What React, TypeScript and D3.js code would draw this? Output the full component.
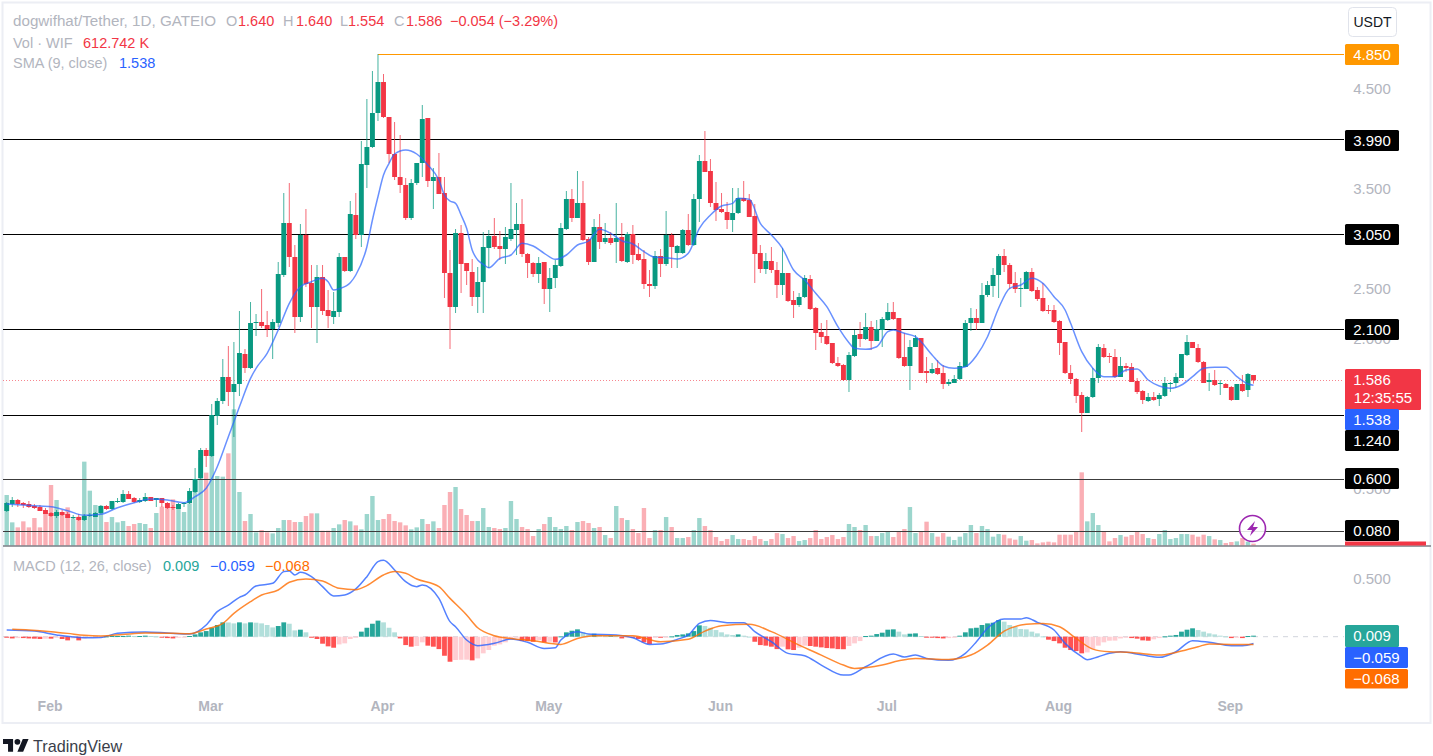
import React from 'react';
import * as d3 from 'd3';

// dogwifhat/Tether daily candles (first candle is 24 Jan)
const opens = [.28,.35,.39,.36,.35,.33,.32,.29,.26,.23,.27,.25,.21,.22,.19,.23,.22,.26,.33,.30,.37,.37,.45,.41,.37,.38,.42,.39,.41,.36,.32,.30,.35,.36,.47,.61,.89,.83,1.23,1.38,1.62,1.47,1.55,1.85,1.71,2.16,2.17,2.14,2.10,2.16,2.64,3.16,2.82,2.22,3.04,2.56,2.32,2.62,2.29,2.22,2.27,2.82,2.68,3.24,3.04,3.74,3.92,4.26,4.57,4.22,3.85,3.62,3.54,3.21,3.56,3.76,4.21,3.58,3.62,3.46,2.66,2.32,3.06,2.76,2.67,2.42,2.57,2.91,3.03,2.93,2.90,3.00,3.09,3.15,2.85,2.76,2.65,2.77,2.50,2.61,2.73,3.10,3.40,3.21,3.36,3.00,2.77,3.12,2.97,3.01,2.97,3.02,2.77,3.05,2.85,2.80,2.55,2.53,2.83,2.75,3.04,2.86,2.86,3.09,2.94,3.40,3.78,3.68,3.36,3.30,3.27,3.19,3.26,3.41,3.39,3.23,2.86,2.70,2.78,2.69,2.54,2.66,2.39,2.34,2.42,2.60,2.31,2.07,2.03,1.96,1.76,1.74,1.59,1.83,2.05,2.00,2.12,1.98,2.09,2.19,2.27,2.21,1.82,1.73,1.92,2.01,1.68,1.66,1.71,1.66,1.55,1.56,1.60,1.72,2.16,2.21,2.16,2.44,2.53,2.64,2.83,2.74,2.56,2.50,2.50,2.67,2.49,2.41,2.29,2.29,2.18,1.97,1.66,1.60,1.44,1.26,1.42,1.61,1.91,1.83,1.82,1.62,1.73,1.72,1.58,1.48,1.38,1.42,1.40,1.43,1.55,1.56,1.61,1.84,1.97,1.91,1.77,1.57,1.59,1.55,1.55,1.52,1.39,1.55,1.49,1.64];
const highs = [.37,.42,.40,.37,.38,.35,.34,.31,.27,.29,.29,.27,.24,.25,.25,.26,.27,.34,.34,.38,.41,.49,.48,.42,.41,.46,.42,.41,.41,.37,.34,.36,.37,.51,.71,.91,.91,1.35,1.41,1.80,1.93,1.97,2.28,1.90,2.37,2.25,2.50,2.28,2.20,2.77,3.46,3.56,2.94,3.15,3.30,2.74,2.74,2.74,2.49,2.47,2.86,2.82,3.38,3.46,3.98,4.40,4.68,4.85,4.65,4.22,4.17,4.04,3.61,3.60,3.76,4.34,4.21,3.71,3.86,3.62,2.89,3.10,3.14,2.76,2.80,2.72,3.07,3.09,3.21,3.08,3.12,3.56,3.36,3.40,2.86,2.77,2.82,2.77,2.71,2.79,3.16,3.48,3.50,3.68,3.58,3.02,3.20,3.25,3.16,3.07,3.36,3.16,3.07,3.14,2.96,2.89,2.69,2.88,2.90,3.28,3.06,2.94,3.10,3.25,3.45,3.84,4.08,3.80,3.57,3.46,3.37,3.51,3.51,3.58,3.45,3.35,2.94,2.86,2.92,2.77,2.91,2.66,2.48,2.46,2.64,2.64,2.32,2.16,2.19,1.96,1.82,1.75,1.87,2.09,2.17,2.26,2.18,2.19,2.22,2.36,2.37,2.21,2.06,1.99,2.04,2.01,1.82,1.76,1.79,1.74,1.60,1.64,1.77,2.19,2.31,2.30,2.56,2.58,2.71,2.85,2.90,2.76,2.67,2.61,2.68,2.71,2.52,2.56,2.34,2.34,2.19,1.97,1.74,1.61,1.47,1.43,1.71,1.95,1.95,1.86,1.90,1.82,1.76,1.76,1.61,1.49,1.46,1.47,1.46,1.62,1.57,1.66,1.85,2.04,1.97,1.95,1.78,1.66,1.69,1.59,1.56,1.53,1.55,1.64,1.66,1.64];
const lows = [.27,.32,.32,.31,.31,.30,.28,.25,.22,.21,.23,.21,.20,.18,.18,.22,.22,.25,.29,.29,.36,.36,.40,.36,.36,.37,.38,.32,.32,.30,.29,.30,.32,.35,.46,.60,.72,.82,1.14,1.35,1.33,1.02,1.43,1.66,1.70,2.03,2.11,2.02,1.80,2.12,2.62,2.72,2.06,2.17,2.52,2.11,1.96,2.24,2.11,2.15,2.22,2.67,2.67,3.00,2.92,3.51,3.91,4.18,4.21,3.76,3.59,3.46,3.19,3.19,3.54,3.62,3.52,3.30,3.45,2.41,1.90,2.26,2.46,2.54,2.33,2.26,2.26,2.71,2.90,2.79,2.75,2.98,2.84,2.82,2.61,2.62,2.56,2.35,2.27,2.51,2.72,3.09,3.17,3.21,2.98,2.74,2.77,2.90,2.95,2.94,2.76,2.77,2.76,2.75,2.78,2.50,2.42,2.50,2.62,2.73,2.71,2.71,2.85,2.93,2.93,3.17,3.67,3.32,3.18,3.26,3.10,3.07,3.25,3.37,3.22,2.56,2.66,2.65,2.66,2.41,2.44,2.37,2.21,2.32,2.41,2.29,1.89,1.96,1.94,1.75,1.72,1.58,1.47,1.82,1.92,1.99,1.89,1.98,1.92,2.18,2.19,1.80,1.72,1.49,1.92,1.66,1.56,1.65,1.64,1.50,1.53,1.56,1.59,1.72,2.08,2.09,2.16,2.42,2.42,2.41,2.67,2.50,2.46,2.32,2.50,2.47,2.38,2.27,2.25,2.16,1.84,1.65,1.55,1.36,1.07,1.26,1.41,1.56,1.81,1.76,1.61,1.62,1.67,1.57,1.45,1.35,1.37,1.38,1.33,1.42,1.47,1.51,1.61,1.83,1.91,1.76,1.56,1.48,1.53,1.44,1.51,1.38,1.39,1.47,1.42,1.554];
const closes = [.36,.39,.35,.34,.32,.31,.28,.25,.23,.27,.24,.21,.22,.19,.23,.24,.26,.33,.30,.38,.38,.45,.40,.37,.39,.42,.38,.41,.36,.31,.31,.35,.36,.48,.60,.89,.83,1.24,1.38,1.62,1.47,1.55,1.86,1.71,2.16,2.17,2.13,2.10,2.17,2.65,3.16,2.82,2.22,3.04,2.55,2.32,2.62,2.28,2.23,2.28,2.82,2.68,3.25,3.04,3.75,3.92,4.26,4.57,4.22,3.85,3.62,3.54,3.21,3.56,3.76,4.20,3.58,3.62,3.45,2.66,2.32,3.06,2.75,2.68,2.42,2.57,2.92,3.03,2.92,2.90,3.02,3.10,3.15,2.85,2.76,2.65,2.76,2.50,2.61,2.74,3.11,3.40,3.21,3.36,2.99,2.77,3.12,2.97,3.01,2.96,3.01,2.78,3.05,2.84,2.79,2.55,2.53,2.83,2.75,3.04,2.92,2.93,3.09,2.94,3.40,3.78,3.67,3.36,3.29,3.27,3.19,3.26,3.41,3.38,3.22,2.85,2.70,2.78,2.69,2.54,2.66,2.38,2.34,2.42,2.61,2.30,2.06,2.02,1.95,1.76,1.73,1.59,1.84,2.04,2.00,2.12,1.98,2.10,2.20,2.27,2.20,1.81,1.73,1.92,2.01,1.66,1.66,1.70,1.65,1.55,1.57,1.60,1.73,2.16,2.21,2.16,2.44,2.54,2.64,2.83,2.74,2.55,2.50,2.51,2.67,2.48,2.40,2.28,2.28,2.17,1.96,1.66,1.60,1.43,1.26,1.42,1.61,1.92,1.82,1.82,1.62,1.73,1.71,1.57,1.47,1.39,1.42,1.39,1.44,1.56,1.56,1.62,1.85,1.97,1.91,1.77,1.56,1.59,1.54,1.56,1.51,1.39,1.55,1.48,1.65,1.586];

// volume in millions of WIF
const volumes = [15.2,7.0,5.5,7.3,5.5,8.3,5.5,9.7,18.2,13.7,9.9,11.5,8.2,8.7,25.2,16.5,12.2,12.0,7.1,8.6,7.0,7.4,5.9,6.5,6.8,6.5,5.3,9.8,11.7,12.7,13.9,11.0,10.1,12.7,19.4,26.4,21.9,28.7,20.9,20.7,27.7,40.9,16.1,7.4,9.5,4.0,4.7,4.0,3.7,5.3,7.7,7.7,7.1,7.1,8.9,9.7,9.7,4.5,4.5,5.3,6.4,7.7,7.3,6.1,4.9,9.5,14.9,7.7,8.0,9.5,7.4,7.0,6.1,4.9,5.5,8.0,6.5,7.3,5.3,12.2,16.1,17.6,11.0,9.2,7.4,7.4,11.3,5.6,5.3,5.0,5.3,13.4,8.0,5.6,5.0,2.9,5.0,6.5,8.6,5.6,5.0,5.9,4.7,7.1,7.4,6.8,5.3,5.6,3.2,2.3,11.9,8.3,7.7,5.0,3.8,11.3,2.3,4.7,4.7,8.6,5.6,2.3,2.3,2.6,4.7,8.3,5.9,4.7,2.6,1.4,2.0,3.2,2.0,2.0,1.7,2.9,2.0,1.4,2.0,3.8,3.5,2.3,2.9,1.4,1.7,2.3,4.7,2.0,2.6,3.2,2.0,2.6,6.5,5.6,4.7,6.2,2.9,2.9,3.8,4.1,2.6,4.1,5.0,11.6,3.8,4.4,7.2,3.8,2.7,3.8,2.7,1.7,2.7,3.8,6.2,3.8,5.9,5.0,2.7,3.5,3.3,2.2,1.8,2.9,1.5,1.7,.7,1.0,1.2,1.0,3.3,3.3,3.3,4.2,22.0,7.3,9.8,6.2,4.3,1.3,2.3,3.2,2.7,3.2,4.2,3.5,2.3,2.0,3.5,4.7,2.0,2.3,3.5,3.5,3.3,2.7,3.3,2.9,1.9,1.7,.8,1.1,1.3,2.3,1.2,.61];

// SMA 9, read at the listed candle numbers
const smaDays = [0,5,8,11,14,17,20,23,26,29,32,34,36,38,40,42,44,45,47,49,51,53,55,57,58,59,60,62,63,65,66,67,68,69,70,72,74,76,78,79,80,81,82,83,84,85,86,87,89,91,93,95,97,99,101,103,105,107,109,111,113,115,117,119,121,123,125,127,129,131,132,134,136,138,140,142,144,146,148,150,152,153,155,157,159,160,162,164,165,167,169,171,173,175,177,179,181,183,185,187,189,191,192,194,196,198,200,202,204,206,208,210,212,214,216,218,220,222,224,225];
const smaValues = [.35,.333,.323,.283,.237,.247,.313,.363,.40,.39,.363,.423,.507,.723,1.023,1.323,1.607,1.707,1.857,2.09,2.357,2.523,2.573,2.607,2.573,2.49,2.503,2.563,2.64,2.923,3.19,3.423,3.64,3.757,3.85,3.89,3.85,3.74,3.59,3.44,3.38,3.357,3.24,3.107,2.89,2.79,2.747,2.713,2.807,2.84,2.957,2.93,2.857,2.797,2.84,2.94,2.98,3.097,3.057,2.983,2.95,2.873,2.817,2.813,2.80,2.857,3.107,3.24,3.33,3.357,3.407,3.397,3.157,3.04,2.907,2.69,2.59,2.457,2.323,2.123,1.963,1.907,1.897,1.923,2.073,2.09,2.057,2.023,1.973,1.84,1.73,1.707,1.723,1.833,2.023,2.307,2.507,2.54,2.607,2.557,2.423,2.29,2.157,1.873,1.707,1.623,1.623,1.69,1.70,1.59,1.53,1.507,1.54,1.623,1.707,1.717,1.717,1.623,1.55,1.538];

// MACD line and signal line, read at the listed candle numbers
const macdDays = [0,5,9,14,17,20,25,29,33,36,38,40,42,43,45,48,50,51,52,53,55,57,59,61,63,65,67,68,70,72,74,75,78,80,81,83,85,88,91,94,97,99,100,103,105,110,113,116,118,121,123,125,127,130,133,135,138,141,144,147,151,152,155,160,162,164,166,170,173,175,177,180,183,184,186,189,191,194,195,197,199,201,205,208,211,214,217,221,223,225];
const macdValues = [.058,.049,.015,-.009,-.006,.029,.041,.032,.023,.102,.218,.276,.343,.363,.442,.465,.567,.573,.538,.561,.523,.436,.355,.363,.416,.523,.654,.666,.581,.48,.436,.451,.334,.131,.087,-.029,-.078,-.058,-.02,-.049,-.102,-.096,-.029,.044,.023,.015,-.009,-.067,-.064,-.023,.015,.116,.142,.122,.122,.044,-.044,-.145,-.166,-.247,-.334,-.334,-.262,-.151,-.177,-.16,-.189,-.206,-.145,-.044,.073,.154,.154,.166,.125,.058,-.058,-.174,-.201,-.174,-.145,-.131,-.16,-.18,-.131,-.035,-.049,-.078,-.078,-.059];
const signalDays = [1,4,8,11,14,17,21,25,30,33,36,39,41,44,46,49,51,54,57,60,63,65,68,70,72,74,78,80,83,85,88,91,95,100,103,106,113,118,123,126,129,134,138,143,147,151,153,158,161,164,170,174,177,180,184,187,190,193,196,199,203,208,211,215,217,221,225];
const signalValues = [.064,.058,.044,.029,.012,.006,.02,.032,.029,.026,.067,.116,.203,.305,.363,.407,.474,.503,.485,.422,.41,.445,.538,.567,.552,.503,.436,.334,.189,.078,.009,-.015,-.035,-.067,-.015,.009,.009,-.044,-.023,.049,.096,.108,.044,-.073,-.16,-.247,-.276,-.247,-.209,-.189,-.198,-.16,-.073,.049,.108,.116,.087,-.015,-.108,-.131,-.137,-.16,-.137,-.087,-.064,-.067,-.068];
const histogram = [-.009,-.015,-.012,-.012,-.015,-.017,-.02,-.017,-.017,-.006,-.02,-.032,-.015,-.032,-.015,-.009,-.006,-.003,.003,.006,.006,.006,.009,.006,.006,.009,.006,.003,-.003,-.012,-.015,-.009,-.003,.006,.02,.038,.049,.078,.102,.125,.124,.116,.125,.116,.125,.122,.116,.102,.081,.093,.125,.113,.055,.061,.038,-.009,-.02,-.061,-.084,-.096,-.067,-.058,-.02,-.009,.044,.078,.113,.14,.125,.078,.038,-.015,-.073,-.087,-.081,-.049,-.078,-.087,-.108,-.166,-.218,-.203,-.201,-.2,-.206,-.189,-.145,-.116,-.078,-.067,-.049,-.026,-.009,-.038,-.039,-.044,-.029,-.049,-.044,-.05,.003,.038,.052,.064,.038,.02,.026,.015,.009,.009,.006,-.015,-.002,-.009,-.02,-.049,-.064,-.009,-.009,-.006,.003,.015,.02,.029,.049,.099,.093,.078,.058,.038,.02,.015,.02,.009,.001,-.044,-.073,-.078,-.087,-.108,-.087,-.11,-.116,-.096,-.078,-.081,-.087,-.093,-.099,-.102,-.108,-.109,-.081,-.058,-.038,.006,.009,.023,.035,.061,.064,.044,.02,.026,.029,.006,-.003,-.006,-.012,-.015,-.012,-.006,.009,.038,.073,.078,.102,.116,.122,.145,.131,.102,.087,.067,.064,.044,.029,.003,-.026,-.038,-.058,-.096,-.116,-.125,-.145,-.137,-.108,-.078,-.049,-.035,-.034,-.015,-.009,-.012,-.017,-.032,-.035,-.023,-.012,.003,.009,.015,.044,.061,.073,.058,.044,.029,.02,.009,.003,-.012,-.004,-.012,.006,.009];

const levels = ['3.990', '3.050', '2.100', '1.240', '0.600', '0.080'];
const priceTicks = ['4.500', '3.500', '2.500', '2.000', '0.500'];
const months = ['Feb', 'Mar', 'Apr', 'May', 'Jun', 'Jul', 'Aug', 'Sep'];
const monthStarts = [8, 37, 68, 98, 129, 159, 190, 221];

const UP = '#089981';
const DOWN = '#f23645';
const BLUE = '#2962ff';
const ORANGE = '#ff6d00';
const GREY = '#b2b5be';
const FONT = "'Liberation Sans', Arial, sans-serif";

const x = d3.scaleLinear().domain([0, 225]).range([6.7, 1253.5]);
const py = d3.scaleLinear().domain([0, 4.85]).range([539, 54]);
const vy = d3.scaleLinear().domain([0, 40.9]).range([545.7, 409.3]);
const my = d3.scaleLinear().domain([0, 0.5]).range([636.7, 579.3]);

const LEFT = 3;
const PLOT_RIGHT = 1344;

// keep horizontal rules on the pixel grid, otherwise they blur to grey
const snap = (v: number) => Math.floor(v) + 0.5;

const lineOf = (days: number[], values: number[], y: d3.ScaleLinear<number, number>) =>
  d3.line<number>()
    .x((_, i) => x(days[i]))
    .y((v) => y(v))
    .curve(d3.curveMonotoneX)(values) as string;

const histColor = (v: number, prev: number) => {
  if (v >= 0) return v >= prev ? '#26a69a' : '#b2dfdb';
  return v <= prev ? '#ff5252' : '#ffcdd2';
};

function Badge({ y, h = 21, w = 54, fill, text, size = 15 }: any) {
  return (
    <g>
      <rect x={1345} y={y} width={w} height={h} rx={1.5} fill={fill} />
      <text x={1345 + w / 2} y={y + h / 2 + 5} fontSize={size} fill="#fff" textAnchor="middle">{text}</text>
    </g>
  );
}

export default function App() {
  return (
    <svg
      width={1433}
      height={756}
      style={{ position: 'fixed', left: 0, top: 0, display: 'block', background: '#fff' }}
      fontFamily={FONT}
    >
      {/* frame */}
      <rect x={2.5} y={2.5} width={1428} height={720.5} fill="#fff" stroke="#eceef4" strokeWidth={2} />

      {/* volume sits under everything else */}
      {volumes.map((v, i) => (
        <rect
          key={i}
          x={x(i) - 2.2}
          y={vy(v)}
          width={4.4}
          height={vy(0) - vy(v)}
          fill={closes[i] >= opens[i] ? UP : DOWN}
          opacity={0.4}
        />
      ))}

      {/* horizontal levels */}
      {levels.map((l) => (
        <line
          key={l}
          x1={LEFT}
          x2={PLOT_RIGHT}
          y1={snap(py(+l))}
          y2={snap(py(+l))}
          stroke={+l < 1 ? '#3c3c3c' : '#000'}
        />
      ))}
      <line x1={x(67)} x2={PLOT_RIGHT} y1={snap(py(4.85))} y2={snap(py(4.85))} stroke="#ff9800" />
      <line
        x1={LEFT}
        x2={PLOT_RIGHT}
        y1={snap(py(1.586))}
        y2={snap(py(1.586))}
        stroke={DOWN}
        strokeOpacity={0.6}
        strokeDasharray="1 2"
      />

      {/* candles */}
      {opens.map((o, i) => {
        const up = closes[i] >= o;
        const color = up ? UP : DOWN;
        const top = py(Math.max(o, closes[i]));
        const bottom = py(Math.min(o, closes[i]));
        return (
          <g key={i}>
            <line x1={x(i)} x2={x(i)} y1={py(highs[i])} y2={py(lows[i])} stroke={color} strokeOpacity={0.75} />
            <rect x={x(i) - 2.45} y={top} width={4.9} height={Math.max(bottom - top, 1)} fill={color} />
          </g>
        );
      })}

      <path d={lineOf(smaDays, smaValues, py)} fill="none" stroke={BLUE} strokeOpacity={0.7} strokeWidth={1.5} />

      {/* pane separator */}
      <line x1={LEFT} x2={1431} y1={546} y2={546} stroke="#7b7d85" strokeWidth={1.4} />

      {/* MACD pane */}
      <line x1={LEFT} x2={PLOT_RIGHT} y1={my(0)} y2={my(0)} stroke="#d1d4dc" strokeDasharray="5 5" />
      {histogram.map((v, i) => (
        <rect
          key={i}
          x={x(i) - 2.4}
          y={v >= 0 ? my(v) : my(0)}
          width={4.8}
          height={Math.max(Math.abs(my(v) - my(0)), 1)}
          fill={histColor(v, i ? histogram[i - 1] : 0)}
        />
      ))}
      <path d={lineOf(macdDays, macdValues, my)} fill="none" stroke={BLUE} strokeOpacity={0.8} strokeWidth={1.5} />
      <path d={lineOf(signalDays, signalValues, my)} fill="none" stroke={ORANGE} strokeOpacity={0.8} strokeWidth={1.5} />

      {/* time axis */}
      {months.map((m, i) => (
        <text key={m} x={x(monthStarts[i]) - 1} y={711} fontSize={14} fontWeight={700} fill={GREY} textAnchor="middle">{m}</text>
      ))}

      {/* price scale */}
      {priceTicks.map((t) => (
        <text key={t} x={1372} y={py(+t) + 5} fontSize={15} fill={GREY} textAnchor="middle">{t}</text>
      ))}
      <text x={1372} y={my(0.5) + 5} fontSize={15} fill={GREY} textAnchor="middle">0.500</text>

      <rect x={1348.5} y={7.5} width={48} height={29} rx={4} fill="#fff" stroke="#e0e3eb" />
      <text x={1372.5} y={27} fontSize={14} fill="#131722" textAnchor="middle">USDT</text>

      <Badge y={44} fill="#ff9800" text="4.850" />
      {levels.map((l, i) => (
        <Badge key={l} y={[130, 224, 319, 430, 468, 520][i]} fill="#000" text={l} />
      ))}
      <rect x={1345} y={369} width={76} height={41} rx={1.5} fill={DOWN} />
      <text x={1372} y={385} fontSize={15} fill="#fff" textAnchor="middle">1.586</text>
      <text x={1383} y={403} fontSize={15} fill="#fff" textAnchor="middle">12:35:55</text>
      <Badge y={409} fill={BLUE} text="1.538" />
      <rect x={1345} y={541.5} width={81} height={4} fill={DOWN} />

      <Badge y={625} h={22} fill="#26a69a" text="0.009" />
      <Badge y={647} w={63} fill={BLUE} text="−0.059" />
      <Badge y={669} w={63} h={19.5} fill={ORANGE} text="−0.068" />

      {/* legend */}
      <g fontSize={14.5}>
        <text x={13} y={26} fontSize={15.2} fill={GREY}>dogwifhat/Tether, 1D, GATEIO</text>
        <text x={226} y={26} fill={GREY}>O</text>
        <text x={238} y={26} fill={DOWN}>1.640</text>
        <text x={283} y={26} fill={GREY}>H</text>
        <text x={296} y={26} fill={DOWN}>1.640</text>
        <text x={340} y={26} fill={GREY}>L</text>
        <text x={348} y={26} fill={DOWN}>1.554</text>
        <text x={394} y={26} fill={GREY}>C</text>
        <text x={406} y={26} fill={DOWN}>1.586</text>
        <text x={450} y={26} fill={DOWN}>−0.054 (−3.29%)</text>
        <text x={13} y={48} fill={GREY}>Vol · WIF</text>
        <text x={83} y={48} fill={DOWN}>612.742 K</text>
        <text x={13} y={68} fill={GREY}>SMA (9, close)</text>
        <text x={119} y={68} fill={BLUE}>1.538</text>
        <text x={13} y={571} fill={GREY}>MACD (12, 26, close)</text>
        <text x={163} y={571} fill="#26a69a">0.009</text>
        <text x={210} y={571} fill={BLUE}>−0.059</text>
        <text x={265} y={571} fill={ORANGE}>−0.068</text>
      </g>

      {/* replay button */}
      <circle cx={1252.5} cy={528.5} r={13} fill="#fff" fillOpacity={0.85} stroke="#9c27b0" strokeWidth={1.6} />
      <path d="M1255 521 L1247 530 L1252 530 L1250 536 L1258 527 L1253 527 Z" fill="#9c27b0" />

      {/* logo */}
      <g transform="translate(3,736) scale(0.72)" fill="#131722">
        <path d="M14 22H7V11H0V4h14v18zM28 22h-8l7.5-18h8L28 22z" />
        <circle cx={20} cy={8} r={4} />
      </g>
      <text x={33} y={751.5} fontSize={16.2} fill="#3a3e4a">TradingView</text>
    </svg>
  );
}
